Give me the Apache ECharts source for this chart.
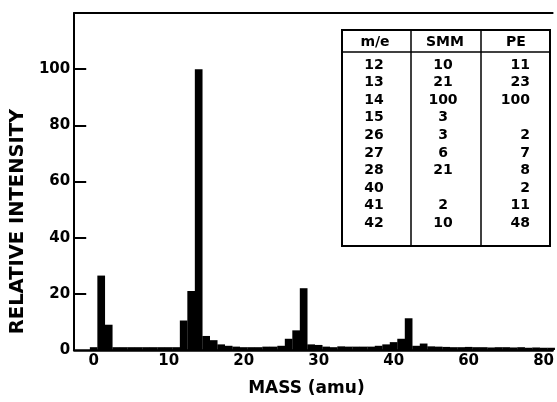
<!DOCTYPE html>
<html>
<head>
<meta charset="utf-8">
<script src="https://cdn.jsdelivr.net/npm/echarts@6/dist/echarts.min.js"></script>
<style>
html,body{margin:0;padding:0;background:#fff;}
#chart{width:557px;height:402px;}
</style>
</head>
<body>
<div id="chart"></div>
<script>
// ---- data ----
var masses = [0,1,2,3,4,5,6,7,8,9,10,11,12,13,14,15,16,17,18,19,20,21,22,23,24,25,26,27,28,29,30,31,32,33,34,35,36,37,38,39,40,41,42,43,44,45,46,47,48,49,50,51,52,53,54,55,56,57,58,59,60,61];
var intensity = [1,26.5,9,1,1,1,1,1,1,1,1,1,10.5,21,100,5,3.5,2,1.5,1.2,1,1,1,1.2,1.2,1.5,4,7,22,2,1.8,1.2,1,1.3,1.2,1.2,1.2,1.2,1.5,2,2.8,4,11.3,1.5,2.3,1.3,1.2,1.1,1,1,1.1,1,1,0.9,1,1,0.9,1,0.8,0.9,0.8,0.8];
var xTickValues = [0,10,20,30,40,50,60];
var xTickLabels = ['0','10','20','30','40','60','80'];
var yTickValues = [0,20,40,60,80,100];
var tableHeader = ['m/e','SMM','PE'];
var tableMass = ['12','13','14','15','26','27','28','40','41','42'];
var tableSMM  = ['10','21','100','3','3','6','21','','2','10'];
var tablePE   = ['11','23','100','','2','7','8','2','11','48'];

var FONT = 'DejaVu Sans';
var chart = echarts.init(document.getElementById('chart'), null, {renderer:'canvas'});

var barData = masses.map(function(m,i){ return [m, intensity[i]]; });

// table graphic
var tx = 342, ty = 30, tw = 208, th = 216, headY = 52, c1 = 411, c2 = 481;
var rowY0 = 65, rowStep = 17.6;
var g = [];
g.push({type:'rect', shape:{x:tx,y:ty,width:tw,height:th}, style:{fill:'#fff',stroke:'#000',lineWidth:2}, z:10});
g.push({type:'line', shape:{x1:tx,y1:headY,x2:tx+tw,y2:headY}, style:{stroke:'#000',lineWidth:1.5}, z:11});
g.push({type:'line', shape:{x1:c1,y1:ty,x2:c1,y2:ty+th}, style:{stroke:'#000',lineWidth:1.5}, z:11});
g.push({type:'line', shape:{x1:c2,y1:ty,x2:c2,y2:ty+th}, style:{stroke:'#000',lineWidth:1.5}, z:11});
var colCx = [375, 445, 516];
tableHeader.forEach(function(t,i){
  g.push({type:'text', x:colCx[i], y:42, style:{text:t, font:'bold 14px "'+FONT+'"', fill:'#000', align:'center', verticalAlign:'middle'}, z:12});
});
function addCol(arr, x, align){
  arr.forEach(function(t,i){
    if(t==='') return;
    g.push({type:'text', x:x, y:rowY0+i*rowStep, style:{text:t, font:'bold 14px "'+FONT+'"', fill:'#000', align:align, verticalAlign:'middle'}, z:12});
  });
}
addCol(tableMass, 374, 'center');
addCol(tableSMM, 443, 'center');
addCol(tablePE, 530, 'right');

var option = {
  backgroundColor:'#fff',
  animation:false,
  grid:{left:72, right:0, top:13, bottom:50, containLabel:false},
  xAxis:[{
    type:'value', min:-2.6, max:61.2, position:'bottom',
    name:'MASS (amu)', nameLocation:'middle', nameGap:30,
    nameTextStyle:{fontFamily:FONT, fontWeight:'bold', fontSize:17, color:'#000', padding:[0,14,0,0]},
    axisLine:{show:true, onZero:false, lineStyle:{color:'#000', width:2.5}},
    axisTick:{show:false},
    splitLine:{show:false},
    axisLabel:{customValues:xTickValues, margin:4, color:'#000', fontFamily:FONT, fontWeight:'bold', fontSize:15,
      formatter:function(v){ var i = xTickValues.indexOf(v); return i>=0 ? xTickLabels[i] : ''; }}
  },{
    type:'value', min:-2.6, max:61.2, position:'top',
    axisLine:{show:true, onZero:false, lineStyle:{color:'#000', width:2}},
    axisTick:{show:false}, axisLabel:{show:false}, splitLine:{show:false}
  }],
  yAxis:{
    type:'value', min:0, max:120, interval:20, position:'left',
    name:'RELATIVE INTENSITY', nameLocation:'middle', nameGap:44,
    nameTextStyle:{fontFamily:FONT, fontWeight:'bold', fontSize:19.5, color:'#000', padding:[0,80,0,0]},
    axisLine:{show:true, onZero:false, lineStyle:{color:'#000', width:2}},
    axisTick:{show:true, inside:true, length:12, customValues:[20,40,60,80,100], lineStyle:{color:'#000', width:2}},
    splitLine:{show:false},
    axisLabel:{customValues:yTickValues, margin:4, color:'#000', fontFamily:FONT, fontWeight:'bold', fontSize:15}
  },
  series:[{
    type:'bar', xAxisIndex:0, data:barData, barWidth:7.7,
    itemStyle:{color:'#000'}, z:3
  }],
  graphic:g
};
chart.setOption(option);
</script>
</body>
</html>
